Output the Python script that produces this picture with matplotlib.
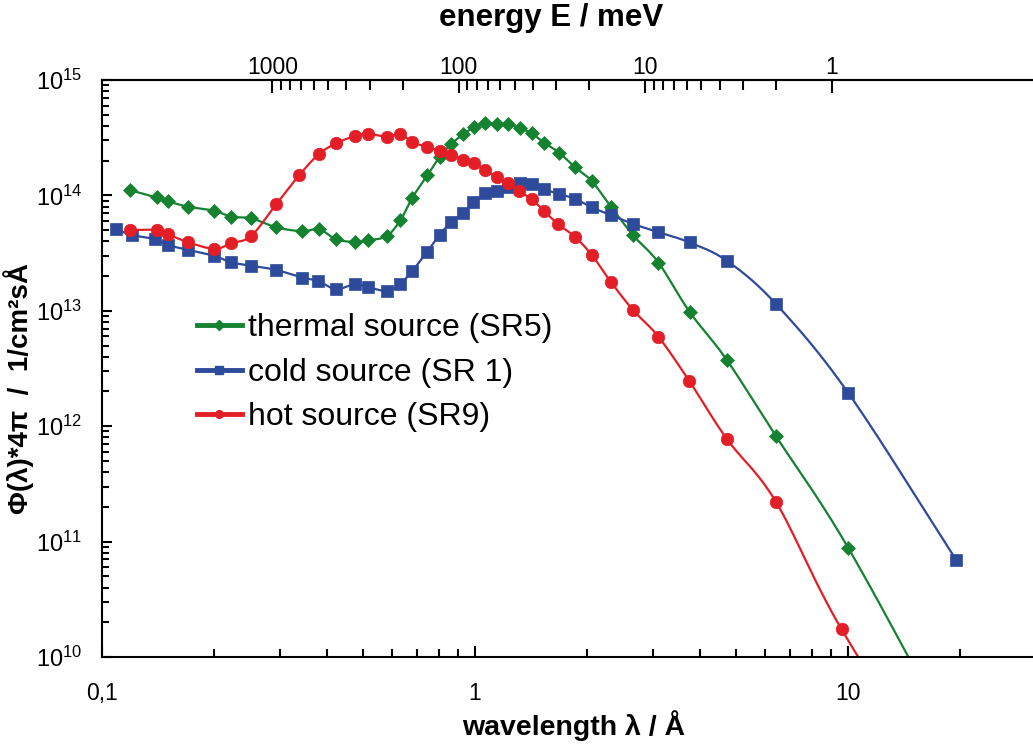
import numpy as np
import matplotlib
matplotlib.use('Agg')
import matplotlib.pyplot as plt
from matplotlib.lines import Line2D
from matplotlib.ticker import FixedLocator, FuncFormatter, NullFormatter, LogLocator

plt.rcParams['font.family'] = ['Liberation Sans', 'DejaVu Sans']
plt.rcParams['mathtext.fontset'] = 'custom'
plt.rcParams['mathtext.rm'] = 'Liberation Sans'

# thermal source (SR5)
thermal_wl = [0.119, 0.140, 0.150, 0.170, 0.200, 0.222, 0.251, 0.293, 0.344, 0.382,
              0.424, 0.476, 0.518, 0.580, 0.631, 0.679, 0.745, 0.803, 0.864, 0.929,
              0.994, 1.064, 1.143, 1.228, 1.320, 1.419, 1.531, 1.679, 1.850, 2.055,
              2.315, 2.655, 3.10, 3.76, 4.73, 6.40, 10.0, 19.5]
thermal_flux = [1.11e14, 9.6e13, 8.9e13, 7.98e13, 7.36e13, 6.53e13, 6.33e13, 5.29e13, 4.89e13, 5.09e13,
                4.17e13, 3.95e13, 4.08e13, 4.45e13, 6.12e13, 9.56e13, 1.49e14, 2.14e14, 2.79e14, 3.38e14,
                3.89e14, 4.22e14, 4.16e14, 4.16e14, 3.81e14, 3.45e14, 2.86e14, 2.35e14, 1.76e14, 1.33e14,
                7.95e13, 4.5e13, 2.62e13, 9.77e12, 3.75e12, 8.23e11, 8.85e10, 1.7e9]

# cold source (SR 1)
cold_wl = [0.109, 0.120, 0.139, 0.150, 0.170, 0.200, 0.222, 0.251, 0.293, 0.344,
           0.380, 0.424, 0.476, 0.518, 0.580, 0.631, 0.679, 0.742, 0.803, 0.864,
           0.927, 0.989, 1.066, 1.145, 1.228, 1.320, 1.421, 1.531, 1.679, 1.850,
           2.055, 2.315, 2.655, 3.10, 3.76, 4.74, 6.40, 10.0, 19.5]
cold_flux = [5.12e13, 4.54e13, 4.17e13, 3.72e13, 3.37e13, 2.99e13, 2.63e13, 2.46e13, 2.26e13, 1.94e13,
             1.81e13, 1.54e13, 1.70e13, 1.60e13, 1.49e13, 1.72e13, 2.22e13, 3.21e13, 4.54e13, 5.90e13,
             7.0e13, 8.7e13, 1.04e14, 1.09e14, 1.18e14, 1.27e14, 1.26e14, 1.13e14, 1.03e14, 9.36e13,
             7.89e13, 6.73e13, 5.65e13, 4.80e13, 3.91e13, 2.70e13, 1.15e13, 1.95e12, 6.92e10]

# hot source (SR9)
hot_wl = [0.119, 0.140, 0.150, 0.170, 0.200, 0.222, 0.251, 0.293, 0.338, 0.382,
          0.425, 0.476, 0.517, 0.580, 0.631, 0.679, 0.745, 0.805, 0.864, 0.929,
          0.994, 1.064, 1.143, 1.228, 1.31, 1.419, 1.531, 1.67, 1.85, 2.055,
          2.315, 2.655, 3.10, 3.75, 4.73, 6.40, 9.6, 19.5]
hot_flux = [5.01e13, 5.01e13, 4.6e13, 3.93e13, 3.44e13, 3.85e13, 4.45e13, 8.37e13, 1.50e14, 2.29e14,
            2.83e14, 3.27e14, 3.41e14, 3.23e14, 3.41e14, 2.88e14, 2.64e14, 2.43e14, 2.24e14, 2.03e14,
            1.92e14, 1.66e14, 1.44e14, 1.29e14, 1.09e14, 9.25e13, 7.33e13, 5.62e13, 4.39e13, 3.05e13,
            1.77e13, 1.01e13, 5.97e12, 2.47e12, 7.75e11, 2.22e11, 1.74e10, 4.7e8]

labels = ['thermal source (SR5)', 'cold source (SR 1)', 'hot source (SR9)']
colors = ['#14822f', '#2e4a9b', '#e41e26']

energy_major = [1, 10, 100, 1000]


def smooth(x, y, n=16):
    # Excel-like smoothed line (Catmull-Rom) through the points, in log-log space
    lx, ly = np.log10(x), np.log10(y)
    px = np.concatenate([[2 * lx[0] - lx[1]], lx, [2 * lx[-1] - lx[-2]]])
    py = np.concatenate([[2 * ly[0] - ly[1]], ly, [2 * ly[-1] - ly[-2]]])
    t = np.linspace(0, 1, n, endpoint=False)[:, None]
    xs, ys = [], []
    for i in range(len(lx) - 1):
        for p, out in ((px, xs), (py, ys)):
            p0, p1, p2, p3 = p[i], p[i + 1], p[i + 2], p[i + 3]
            c = 0.5 * (2 * p1 + (-p0 + p2) * t + (2 * p0 - 5 * p1 + 4 * p2 - p3) * t ** 2
                       + (-p0 + 3 * p1 - 3 * p2 + p3) * t ** 3)
            out.append(c.ravel())
    xs.append([lx[-1]])
    ys.append([ly[-1]])
    return 10 ** np.concatenate(xs), 10 ** np.concatenate(ys)


fig = plt.figure(figsize=(10.33, 7.47), dpi=100)
ax = fig.add_axes([102 / 1033, 1 - 657 / 747, 931 / 1033, 577 / 747])

series = [(thermal_wl, thermal_flux, 'D', 7.5),
          (cold_wl, cold_flux, 's', 9),
          (hot_wl, hot_flux, 'o', 9)]
for (wl, fl, mk, ms), col in zip(series, colors):
    sx, sy = smooth(wl, fl)
    ax.plot(sx, sy, color=col, lw=1.6)
    ax.plot(wl, fl, ls='none', marker=mk, ms=ms, color=col, mec=col, mew=0.5)

ax.set_xscale('log')
ax.set_yscale('log')
ax.set_xlim(0.1, 31.3)
ax.set_ylim(1e10, 1e15)

# bottom axis
ax.xaxis.set_major_locator(FixedLocator([0.1, 1, 10]))
ax.xaxis.set_major_formatter(FuncFormatter(lambda v, p: f'{v:g}'.replace('.', ',')))
wl_minor = [k * 10.0 ** e for e in (-1, 0) for k in range(2, 10)] + [20]
ax.xaxis.set_minor_locator(FixedLocator(wl_minor))
ax.xaxis.set_minor_formatter(NullFormatter())

# left axis
ax.yaxis.set_major_locator(LogLocator(base=10, numticks=10))
ax.yaxis.set_major_formatter(FuncFormatter(lambda v, p: r'$\mathregular{10^{%d}}$' % round(np.log10(v))))
ax.yaxis.set_minor_locator(LogLocator(base=10, subs=np.arange(2, 10), numticks=20))
ax.yaxis.set_minor_formatter(NullFormatter())

ax.tick_params(which='both', direction='in', width=1.5, top=False, right=False)
ax.tick_params(axis='x', which='major', length=8, pad=18, labelsize=16.5)
ax.tick_params(axis='x', which='minor', length=6)
ax.tick_params(axis='y', which='major', length=7, pad=14, labelsize=17)
ax.tick_params(axis='y', which='minor', length=5)

for s in ['left', 'bottom', 'top']:
    ax.spines[s].set_linewidth(1.5)
ax.spines['right'].set_visible(False)


# top axis: energy E = 81.81 / lambda^2
def to_energy(lam):
    lam = np.asarray(lam, dtype=float)
    return 81.81 / np.clip(lam, 1e-6, None) ** 2


def to_lambda(en):
    en = np.asarray(en, dtype=float)
    return np.sqrt(81.81 / np.clip(en, 1e-6, None))


secax = ax.secondary_xaxis('top', functions=(to_energy, to_lambda))
secax.xaxis.set_major_locator(FixedLocator(energy_major))
secax.xaxis.set_major_formatter(FuncFormatter(lambda v, p: f'{v:g}'))
en_minor = [k * 10.0 ** e for e in (0, 1, 2) for k in range(2, 10)]
secax.xaxis.set_minor_locator(FixedLocator(en_minor))
secax.xaxis.set_minor_formatter(NullFormatter())
secax.tick_params(which='both', direction='in', width=1.5, labelsize=16.5)
secax.tick_params(which='major', length=9, pad=1)
secax.tick_params(which='minor', length=7)
secax.spines['top'].set_linewidth(1.5)
secax.set_xlabel('energy E / meV', fontsize=22.5, fontweight='bold', va='bottom')
secax.xaxis.set_label_coords(0.482, 1.081, transform=ax.transAxes)

ax.set_xlabel('wavelength λ / Å', fontsize=20.5, fontweight='bold')
ax.xaxis.set_label_coords(0.506, -0.092)
ax.set_ylabel('Φ(λ)*4π  /  1/cm²sÅ', fontsize=20, fontweight='bold')
ax.yaxis.set_label_coords(-0.0726, 0.466)

handles = [Line2D([], [], color=c, lw=3.5, marker=m, ms=5.5)
           for c, m in zip(colors, ['D', 's', 'o'])]
ax.legend(handles, labels, loc='upper left', bbox_to_anchor=(0.102, 0.596),
          frameon=False, fontsize=23, handlelength=1.4, handletextpad=0.2,
          labelspacing=0.46, borderpad=0, borderaxespad=0)

fig.savefig('out.png', dpi=100)
